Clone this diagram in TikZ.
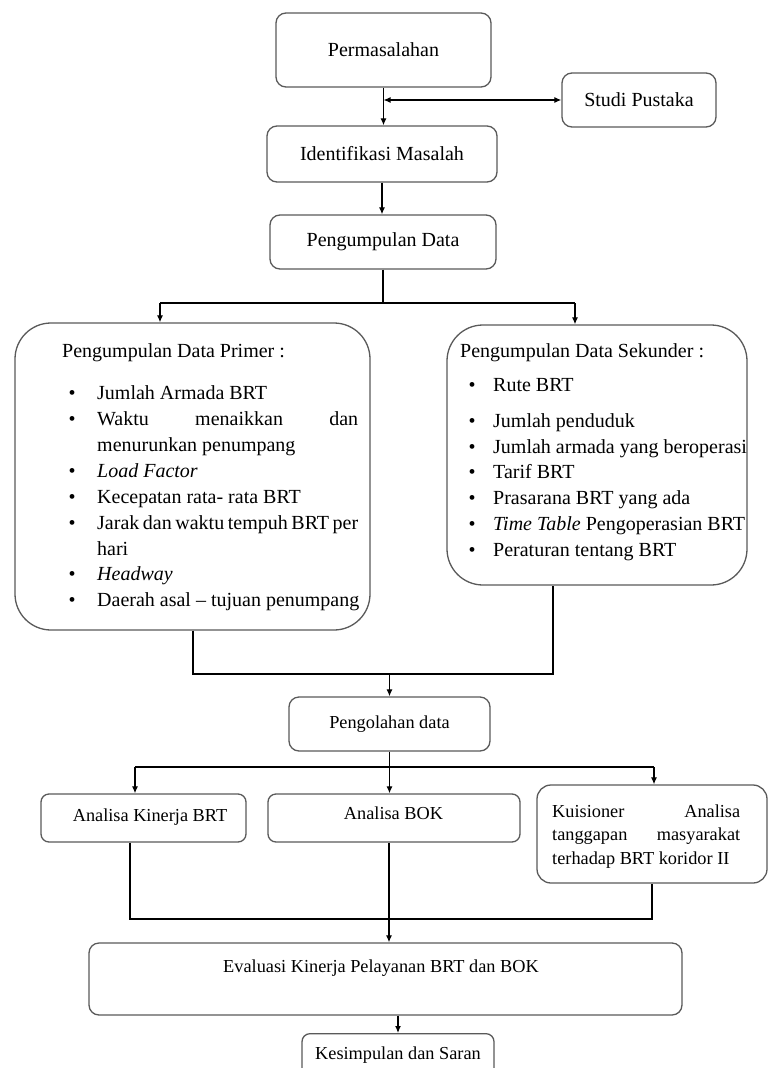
\documentclass[tikz,border=0pt]{standalone}
\usepackage{fontspec}
\setmainfont{Liberation Serif}
\usetikzlibrary{arrows.meta}
\definecolor{boxgray}{HTML}{5A5A5A}
\newcommand{\lbulA}{\makebox[28.5pt][l]{\textbullet}}
\newcommand{\lindA}{\hspace*{28.5pt}}
\newcommand{\lbulB}{\makebox[24.5pt][l]{\textbullet}}
\begin{document}
\begin{tikzpicture}[x=1pt,y=-1pt,
  box/.style={draw=boxgray, line width=1.3pt, rounded corners=10pt, inner sep=0pt},
  bigbox/.style={box, rounded corners=36pt},
  conn/.style={line width=1.2pt, black},
  arr/.style={conn, -{Latex[length=7pt,width=6pt]}},
  darr/.style={conn, {Latex[length=7pt,width=6pt]}-{Latex[length=7pt,width=6pt]}},
  ttop/.style={font=\fontsize{20}{24}\selectfont},
  tbot/.style={font=\fontsize{18.3}{22}\selectfont},
  txt/.style={inner sep=0pt},
  lst/.style={inner sep=0pt, align=left, anchor=west},
]
\useasboundingbox (0,0) rectangle (774,1068);
\clip (0,0) rectangle (774,1068);
\fill[white] (0,0) rectangle (774,1068);

% top boxes
\node[box, ttop, minimum width=215pt, minimum height=74pt] (perm) at (383.5,50) {Permasalahan};
\node[box, ttop, minimum width=154pt, minimum height=54pt] (studi) at (639,100) {Studi Pustaka};
\node[box, ttop, minimum width=230pt, minimum height=56pt] (ident) at (382,154) {Identifikasi Masalah};
\node[box, ttop, minimum width=226pt, minimum height=54pt] (pd) at (383,242) {Pengumpulan Data};

% primer
\node[bigbox, minimum width=355pt, minimum height=307pt] (primer) at (192.5,476.5) {};
\node[txt, ttop, anchor=west] (primerH) at (62,353) {Pengumpulan Data Primer :};
\node[lst, font=\fontsize{20}{25.9}\selectfont] (plist) at (68.5,498.5) {%
\lbulA Jumlah Armada BRT\\
\lbulA \makebox[261pt]{Waktu\hfill menaikkan\hfill dan}\\
\lindA menurunkan penumpang\\
\lbulA \textit{Load Factor}\\
\lbulA Kecepatan rata- rata BRT\\
\lbulA \makebox[261pt][s]{Jarak dan waktu tempuh BRT per}\\
\lindA hari\\
\lbulA \textit{Headway}\\
\lbulA Daerah asal -- tujuan penumpang};

% sekunder
\node[bigbox, minimum width=300pt, minimum height=260pt] (sek) at (597,455) {};
\node[txt, ttop, anchor=west] (sekH) at (460,353) {Pengumpulan Data Sekunder :};
\node[lst, font=\fontsize{20}{25.8}\selectfont] (slist) at (468.5,469.5) {%
\lbulB Rute BRT\\[10pt]
\lbulB Jumlah penduduk\\
\lbulB Jumlah armada yang beroperasi\\
\lbulB Tarif BRT\\
\lbulB Prasarana BRT yang ada\\
\lbulB \textit{Time Table} Pengoperasian BRT\\
\lbulB Peraturan tentang BRT};

% processing
\node[box, tbot, minimum width=201pt, minimum height=54pt] (olah) at (389.5,724) {Pengolahan data};
\node[box, minimum width=205pt, minimum height=48pt, rounded corners=8pt] (kin) at (143.5,818) {};
\node[txt, tbot] (kinT) at (150,817) {Analisa Kinerja BRT};
\node[box, minimum width=252pt, minimum height=48pt, rounded corners=8pt] (bok) at (394,818) {};
\node[txt, tbot] (bokT) at (393.5,813) {Analisa BOK};
\node[box, minimum width=230pt, minimum height=98pt, rounded corners=14pt] (kuis) at (652,834) {};
\node[lst, font=\fontsize{18.3}{23.5}\selectfont] (kuisT) at (552,836.5) {%
\makebox[188pt]{Kuisioner\hfill Analisa}\\
\makebox[188pt]{tanggapan\hfill masyarakat}\\
terhadap BRT koridor II};

\node[box, minimum width=593pt, minimum height=72pt, rounded corners=10pt] (eval) at (385.5,979) {};
\node[txt, tbot] (evalT) at (381,968) {Evaluasi Kinerja Pelayanan BRT dan BOK};
\node[box, minimum width=192pt, minimum height=54pt, rounded corners=8pt, anchor=north] (kes) at (398,1033) {};
\node[txt, tbot] (kesT) at (398,1055) {Kesimpulan dan Saran};

% connectors top
\draw[arr] (perm.south) -- (perm.south |- ident.north);
\coordinate (sj) at (perm.south |- studi.west);
\draw[darr] (sj) -- (studi.west);
\draw[arr] (ident.south) -- (ident.south |- pd.north);

\coordinate (sL) at (160,303);
\coordinate (sR) at (575,303);
\draw[conn] (pd.south) -- (pd.south |- sL);
\draw[conn] (sL) -- (sR);
\draw[arr] (sL) -- (sL |- primer.north);
\draw[arr] (sR) -- (sR |- sek.north);

\coordinate (mL) at (193,674);
\coordinate (mR) at (553,674);
\draw[conn] (mL |- primer.south) -- (mL) -- (mR) -- (mR |- sek.south);
\draw[arr] (olah.north |- mL) -- (olah.north);

\coordinate (tL) at (135,767);
\coordinate (tR) at (654,767);
\draw[arr] (olah.south) -- (olah.south |- bok.north);
\draw[conn] (tL) -- (tR);
\draw[arr] (tL) -- (tL |- kin.north);
\draw[arr] (tR) -- (tR |- kuis.north);

\coordinate (bL) at (130,919);
\coordinate (bR) at (652,919);
\coordinate (bM) at (389,919);
\draw[conn] (bL |- kin.south) -- (bL) -- (bR) -- (bR |- kuis.south);
\draw[arr] (bM |- bok.south) -- (bM |- eval.north);
\draw[arr] (kes.north |- eval.south) -- (kes.north);
\end{tikzpicture}
\end{document}
